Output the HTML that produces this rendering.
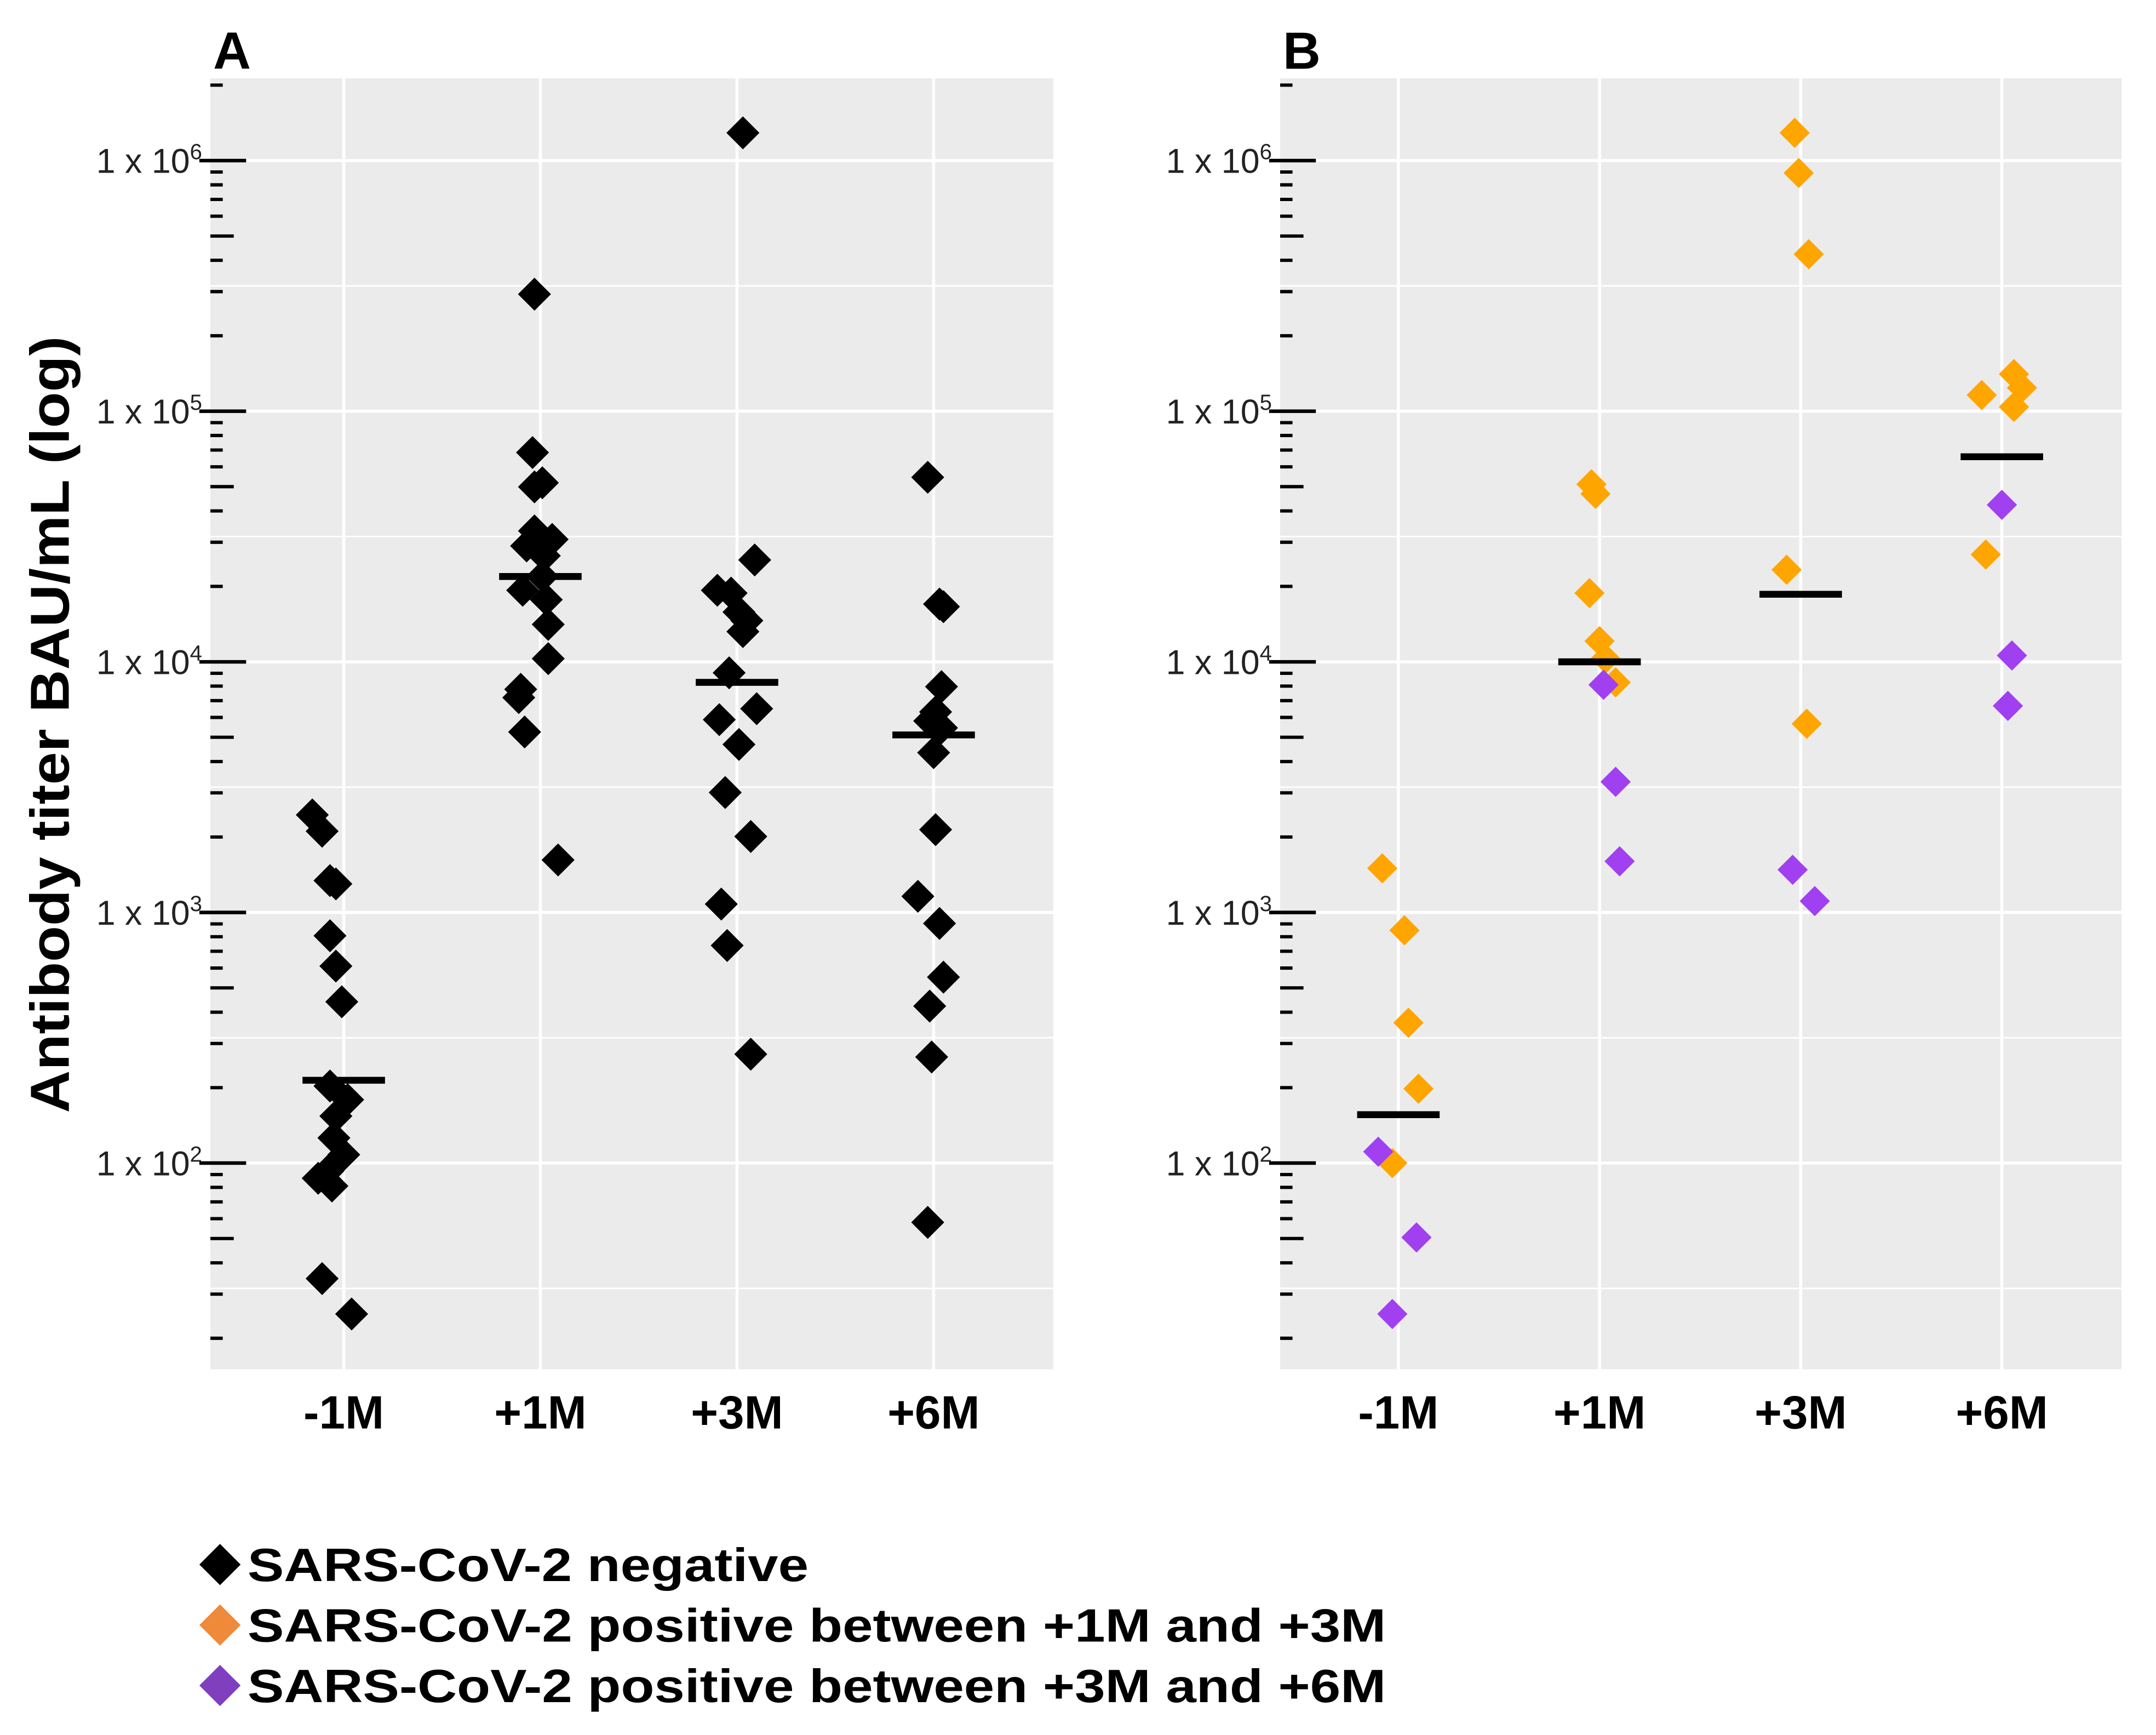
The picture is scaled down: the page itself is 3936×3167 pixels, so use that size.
<!DOCTYPE html>
<html><head><meta charset="utf-8"><style>
html,body{margin:0;padding:0;background:#fff;}
svg{display:block;}
text{font-family:"Liberation Sans",Arial,sans-serif;}
</style></head><body>
<svg id="fig" width="3936" height="3167" viewBox="0 0 1568 1262" preserveAspectRatio="none" xmlns="http://www.w3.org/2000/svg">
<g id="root"></g>
</svg>
<script>
const categories = ["-1M","+1M","+3M","+6M"];
// Panel A (all SARS-CoV-2 negative), values in BAU/mL
const aNeg_m1 = [2450,2110,1340,1300,807,611,440,203,179,154,126,108,93,87,81,34.6,25];
const aNeg_p1 = [293000,68400,51800,49900,33300,30800,29000,26500,21900,19300,17700,14100,10300,7770,7200,5250,1620];
const aNeg_p3 = [1290000,25500,19300,18800,15800,14600,13200,9040,6500,5880,4680,3010,2010,1080,738,272];
const aNeg_p6 = [54500,17000,16600,7960,6310,5810,5450,4340,2140,1160,904,552,423,265,58];
const aMedians = [214,21900,8280,5110];
// jitter (category units) for panel A
const aJit_m1 = [-0.16,-0.11,-0.07,-0.04,-0.07,-0.04,-0.01,-0.07,0.02,-0.04,-0.05,0,-0.08,-0.13,-0.06,-0.11,0.04];
const aJit_p1 = [-0.03,-0.04,0.01,-0.03,-0.03,0.06,-0.07,0.02,0.01,-0.09,0.03,0.04,0.04,-0.1,-0.11,-0.08,0.09];
const aJit_p3 = [0.03,0.09,-0.1,-0.03,0.01,0.05,0.03,-0.04,0.1,-0.09,0.01,-0.06,0.07,-0.08,-0.05,0.07];
const aJit_p6 = [-0.03,0.03,0.05,0.04,0.01,-0.02,0.04,0,0.01,-0.08,0.03,0.05,-0.02,-0.01,-0.03];
// Panel B
const bOrange = [[1500,849,363,198,100],[51100,46800,18800,12100,10300,8280],[1290000,892000,423000,23300,5660],[140600,124000,116000,104000,26800]];
const bOrangeJit = [[-0.08,0.03,0.05,0.1,-0.03],[-0.04,-0.02,-0.05,0,0.03,0.08],[-0.03,-0.01,0.04,-0.07,0.03],[0.06,0.1,-0.1,0.06,-0.08]];
const bPurple = [[111,50.5,25],[8100,3320,1600],[1480,1110],[42300,10600,6670]];
const bPurpleJit = [[-0.1,0.09,-0.03],[0.02,0.08,0.1],[-0.04,0.07],[0,0.05,0.03]];
const bMedians = [156,10000,18600,65800];
const yTickExps = [2,3,4,5,6];

const NS="http://www.w3.org/2000/svg";
const root=document.getElementById('root');
function mk(tag,attrs,parent){const e=document.createElementNS(NS,tag);for(const k in attrs)e.setAttribute(k,attrs[k]);(parent||root).appendChild(e);return e;}

function panel(opts){
  const g=mk('g',{});
  
  
  const x0=opts.x0,x1=opts.x1,y0=57,y1=996;
  const ys=v=>opts.y100-(Math.log10(v)-2)*182.3;
  const xs=(i,j)=>opts.c0+(i+(j||0))*opts.step;
  const bg=mk('rect',{x:x0,y:y0,width:x1-x0,height:y1-y0,fill:'#ebebeb'},g);
  
  
  for(let e=1.5;e<=6.5;e+=0.5){const y=ys(Math.pow(10,e));if(y<y0||y>y1)continue;
    const l=mk('line',{x1:x0,x2:x1,y1:y,y2:y,stroke:'#fff','stroke-width':(e%1===0)?2.2:1.1},g);
    
    }
  categories.forEach((c,i)=>{const x=xs(i);
    const l=mk('line',{x1:x,x2:x,y1:y0,y2:y1,stroke:'#fff','stroke-width':2.2},g);
    
    
    const t=mk('text',{x:x,y:1039,'text-anchor':'middle','font-size':34,'font-weight':'bold',fill:'#000'},g);
    t.textContent=c;
    
    });
  for(let e=1;e<=6;e++){for(let m=1;m<=9;m++){const v=m*Math.pow(10,e);const y=ys(v);if(y<y0||y>y1)continue;
    let xa=x0,xb=x0+9;if(m===1){xa=x0-8;xb=x0+26;}else if(m===5){xb=x0+17;}
    const l=mk('line',{x1:xa,x2:xb,y1:y,y2:y,stroke:'#000','stroke-width':(m===1)?2.6:2.4},g);
    
    }}
  yTickExps.forEach(e=>{const y=ys(Math.pow(10,e));
    const t=mk('text',{x:x0-6,y:y+9,'text-anchor':'end','font-size':25,fill:'#222'},g);
    t.innerHTML='1 x 10<tspan font-size="16" dy="-10">'+e+'</tspan>';
    
    });
  const lab=mk('text',{x:x0+2,y:50,'font-size':38,'font-weight':'bold',fill:'#000'},g);
  lab.textContent=opts.label;
  
  
  return {g,xs,ys};
}
function diamond(g,x,y,r,col,name){
  const p=mk('polygon',{points:`${x},${y-r} ${x+r},${y} ${x},${y+r} ${x-r},${y}`,fill:col},g);
  
  
}
function median(P,i,v){
  const y=P.ys(v),x=P.xs(i);
  const l=mk('line',{x1:x-30,x2:x+30,y1:y,y2:y,stroke:'#000','stroke-width':5},P.g);
  
  
}
const A=panel({name:'panel-a',label:'A',x0:153,x1:766,c0:250,step:143,y100:846});
[[aNeg_m1,aJit_m1],[aNeg_p1,aJit_p1],[aNeg_p3,aJit_p3],[aNeg_p6,aJit_p6]].forEach(([vals,jit],i)=>{
  vals.forEach((v,k)=>diamond(A.g,A.xs(i,jit[k]),A.ys(v),12,'#000','point-negative'));});
aMedians.forEach((v,i)=>median(A,i,v));

const B=panel({name:'panel-b',label:'B',x0:931,x1:1543,c0:1017,step:146.3,y100:846});
bOrange.forEach((vals,i)=>vals.forEach((v,k)=>diamond(B.g,B.xs(i,bOrangeJit[i][k]),B.ys(v),11,'#ffa500','point-positive-1m-3m')));
bPurple.forEach((vals,i)=>vals.forEach((v,k)=>diamond(B.g,B.xs(i,bPurpleJit[i][k]),B.ys(v),11,'#a040f0','point-positive-3m-6m')));
bMedians.forEach((v,i)=>median(B,i,v));

const yt=mk('text',{x:0,y:0,transform:'translate(50,527) rotate(-90)','text-anchor':'middle','font-size':40,'font-weight':'bold',fill:'#000',textLength:565,lengthAdjust:'spacingAndGlyphs'});
yt.textContent='Antibody titer BAU/mL (log)';



const legendLabels=['SARS-CoV-2 negative','SARS-CoV-2 positive between +1M and +3M','SARS-CoV-2 positive between +3M and +6M'];
const legendColors=['#000','#ee8a3a','#7f3fbf'];
const legendWidths=[408,828,828];
const lg=mk('g',{});


legendLabels.forEach((s,i)=>{const y=1138+i*44;
  diamond(lg,160,y,15,legendColors[i],'legend-marker');
  const t=mk('text',{x:180,y:y+12,'font-size':34,'font-weight':'bold',fill:'#000',textLength:legendWidths[i],lengthAdjust:'spacingAndGlyphs'},lg);
  t.textContent=s;
  
  });
</script>
</body></html>
